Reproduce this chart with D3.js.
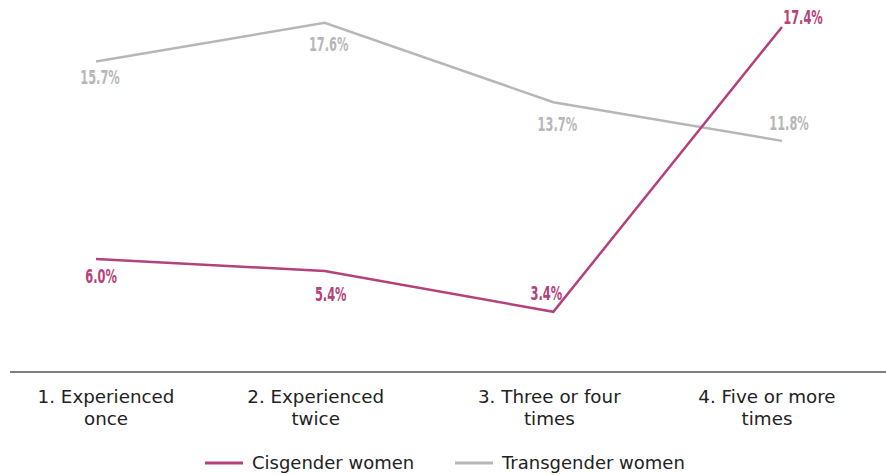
<!DOCTYPE html>
<html><head><meta charset="utf-8">
<script src="https://cdn.jsdelivr.net/npm/d3@7"></script>
<style>body{margin:0;background:#fff}svg{display:block}</style>
</head><body>
<svg id="c" width="886" height="475"></svg>
<script>
const categories = ["1. Experienced once", "2. Experienced twice", "3. Three or four times", "4. Five or more times"];
const tickLines = [["1. Experienced", "once"], ["2. Experienced", "twice"], ["3. Three or four", "times"], ["4. Five or more", "times"]];
const cisgender = [6.0, 5.4, 3.4, 17.4];
const transgender = [15.7, 17.6, 13.7, 11.8];
const seriesNames = ["Cisgender women", "Transgender women"];

const colors = ["#b5417a", "#b7b7b9"];
const svg = d3.select("#c");
const x = d3.scalePoint().domain(categories).range([96, 782]);
const y = d3.scaleLinear().domain([0, 18]).range([381, 381 - 18 * 20.35]);
const axisY = 372;

svg.append("line").attr("x1", 10).attr("x2", 886).attr("y1", axisY).attr("y2", axisY)
  .attr("stroke", "#555").attr("stroke-width", 1.5);

const tickOffsets = [10, -9, -4, -15];
const tg = svg.append("g").attr("font-family", "DejaVu Sans, sans-serif").attr("font-size", 18.3).attr("fill", "#222").attr("text-anchor", "middle");
categories.forEach((c, i) => {
  const t = tg.append("text").attr("x", x(c) + tickOffsets[i]).attr("y", 403);
  tickLines[i].forEach((l, j) => t.append("tspan").attr("x", x(c) + tickOffsets[i]).attr("dy", j ? 22 : 0).text(l));
});

const line = d3.line().x((d, i) => x(categories[i])).y(d => y(d));
const series = [transgender, cisgender];
const sColors = [colors[1], colors[0]];
series.forEach((s, k) => {
  svg.append("path").datum(s).attr("d", line).attr("fill", "none")
    .attr("stroke", sColors[k]).attr("stroke-width", 2.5);
});

// label placement offsets [dx, dy to baseline]
const labelOffsets = [
  [[4, 22], [4, 28], [4, 29], [7, -11]],
  [[5, 24], [6, 30], [-7, -12], [21, -3]]
];
const lg = svg.append("g").attr("font-family", "DejaVu Sans, sans-serif")
  .attr("font-weight", "bold").attr("font-size", 19).attr("text-anchor", "middle");
series.forEach((s, k) => {
  s.forEach((v, i) => {
    const px = x(categories[i]) + labelOffsets[k][i][0];
    const py = y(v) + labelOffsets[k][i][1];
    lg.append("text").attr("transform", `translate(${px},${py}) scale(0.6,1)`)
      .attr("fill", sColors[k]).text(v.toFixed(1) + "%");
  });
});

const legend = svg.append("g").attr("font-family", "DejaVu Sans, sans-serif").attr("font-size", 18).attr("fill", "#222");
const legX = [205, 455];
seriesNames.forEach((n, i) => {
  legend.append("line").attr("x1", legX[i]).attr("x2", legX[i] + 38).attr("y1", 463).attr("y2", 463)
    .attr("stroke", colors[i]).attr("stroke-width", 3);
  legend.append("text").attr("x", legX[i] + 47).attr("y", 469).text(n);
});
</script>
</body></html>
